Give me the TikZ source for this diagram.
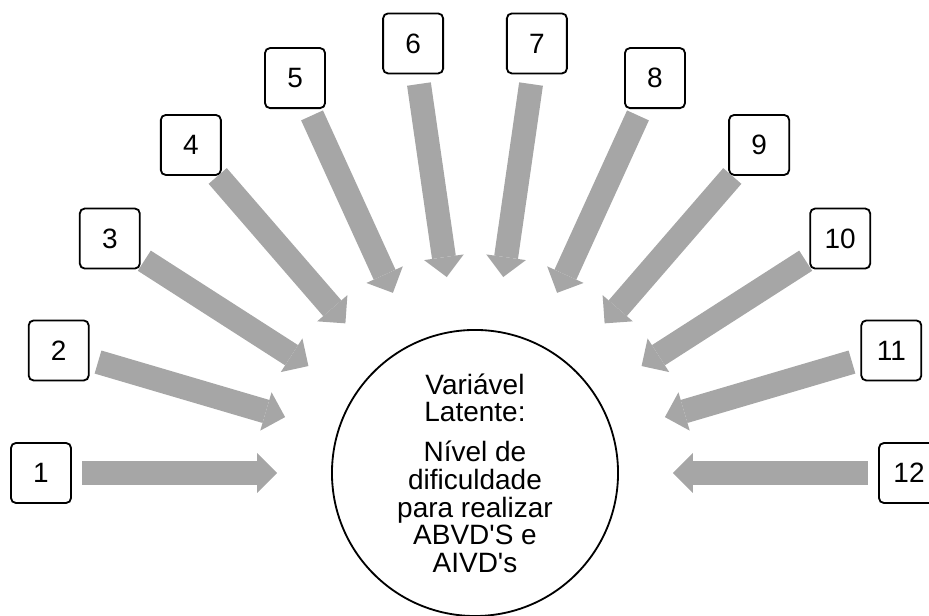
\documentclass[tikz,border=0pt]{standalone}
\usepackage{fontspec}
\setmainfont{Liberation Sans}
\usetikzlibrary{arrows.meta}
\definecolor{arrowgray}{HTML}{A6A6A6}

\begin{document}
\begin{tikzpicture}[x=0.025cm,y=0.025cm,
  numbox/.style={draw,line width=1.3pt,rounded corners=3.5pt,minimum size=1.5cm,inner sep=0pt,font=\fontsize{19.9}{19.6}\selectfont},
  latent/.style={draw,circle,line width=1.3pt,minimum size=7.15cm,inner sep=0pt,align=center,font=\fontsize{19.9}{19.6}\selectfont},
  bigarrow/.style={arrowgray,line width=0.6cm,-{Triangle[width=1cm,length=0.5cm,line width=0pt]},shorten <=1.025cm,shorten >=1.35cm}]
  \useasboundingbox (0,0) rectangle (929,616);

  \node[latent] (lat) at (475,143) {Variável\\Latente:\\[9pt]Nível de\\dificuldade\\para realizar\\ABVD\textquotesingle S e\\AIVD\textquotesingle s};

  \node[numbox] (b1) at ([shift={(180:434)}]lat.center) {1};
  \node[numbox] (b2) at ([shift={(163.6:434)}]lat.center) {2};
  \node[numbox] (b3) at ([shift={(147.3:434)}]lat.center) {3};
  \node[numbox] (b4) at ([shift={(130.9:434)}]lat.center) {4};
  \node[numbox] (b5) at ([shift={(114.5:434)}]lat.center) {5};
  \node[numbox] (b6) at ([shift={(98.2:434)}]lat.center) {6};
  \node[numbox] (b7) at ([shift={(81.8:434)}]lat.center) {7};
  \node[numbox] (b8) at ([shift={(65.5:434)}]lat.center) {8};
  \node[numbox] (b9) at ([shift={(49.1:434)}]lat.center) {9};
  \node[numbox] (b10) at ([shift={(32.7:434)}]lat.center) {10};
  \node[numbox] (b11) at ([shift={(16.4:434)}]lat.center) {11};
  \node[numbox] (b12) at ([shift={(0:434)}]lat.center) {12};

  \draw[bigarrow] (b1.center) -- (lat);
  \draw[bigarrow] (b2.center) -- (lat);
  \draw[bigarrow] (b3.center) -- (lat);
  \draw[bigarrow] (b4.center) -- (lat);
  \draw[bigarrow] (b5.center) -- (lat);
  \draw[bigarrow] (b6.center) -- (lat);
  \draw[bigarrow] (b7.center) -- (lat);
  \draw[bigarrow] (b8.center) -- (lat);
  \draw[bigarrow] (b9.center) -- (lat);
  \draw[bigarrow] (b10.center) -- (lat);
  \draw[bigarrow] (b11.center) -- (lat);
  \draw[bigarrow] (b12.center) -- (lat);

\end{tikzpicture}
\end{document}
